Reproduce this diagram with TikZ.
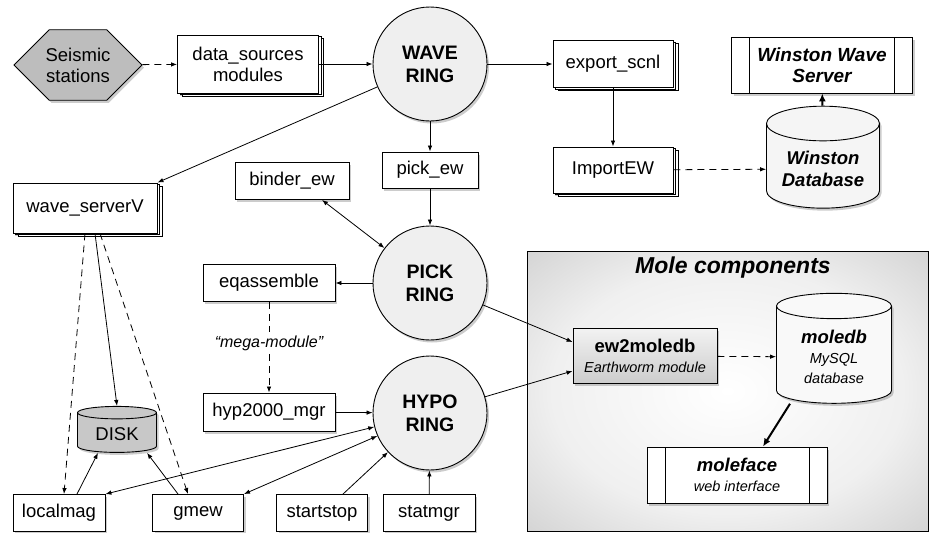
\documentclass[tikz,border=0pt]{standalone}
\usepackage{fontspec}
\setmainfont{Liberation Sans}
\usetikzlibrary{arrows.meta,positioning,shapes.geometric,shapes.misc,shadows}
\definecolor{ringgrey}{HTML}{EFEFEF}
\definecolor{diskgrey}{HTML}{C8C8C8}
\definecolor{stationgrey}{HTML}{BDBDBD}
\pgfdeclareradialshading{moleshade}{\pgfpoint{0bp}{0bp}}{color(0bp)=(white); color(22bp)=(white!94!black); color(42bp)=(white!78!black); color(52bp)=(white!62!black); color(72bp)=(white!50!black)}

\begin{document}
\begin{tikzpicture}[
  x=1pt, y=-1pt,
  font=\fontsize{18.5}{21}\selectfont,
  dropsh/.style={drop shadow={shadow xshift=2pt, shadow yshift=-2.5pt, opacity=0.4}},
  box/.style={draw, fill=white, line width=0.9pt, align=center, inner sep=2pt, dropsh},
  stackbox/.style={box, double copy shadow={shadow xshift=2.5pt, shadow yshift=-1.5pt}},
  ring/.style={circle, draw, line width=0.9pt, fill=ringgrey, minimum size=114pt, align=center, font=\fontsize{19.5}{23}\selectfont\bfseries, dropsh},
  db/.style={cylinder, shape border rotate=90, draw, line width=0.9pt, align=center, dropsh},
  procbox/.style={box, path picture={
    \draw[line width=0.9pt] ([xshift=18pt]path picture bounding box.north west) -- ([xshift=18pt]path picture bounding box.south west)
      ([xshift=-18pt]path picture bounding box.north east) -- ([xshift=-18pt]path picture bounding box.south east);}},
  arr/.style={-{Latex[length=6pt,width=4.5pt]}, line width=0.8pt},
  darr/.style={arr, dash pattern=on 7pt off 5pt},
  biarr/.style={{Latex[length=6pt,width=4.5pt]}-{Latex[length=6pt,width=4.5pt]}, line width=0.8pt},
  fatarr/.style={-{Latex[length=8pt,width=7pt]}, line width=2pt}
]
\useasboundingbox (0,0) rectangle (930,533);

\node[draw, line width=0.8pt, shading=moleshade, minimum width=401pt, minimum height=280pt] (mole) at (727.5,391) {};
\node[font=\fontsize{23}{26}\selectfont\bfseries\itshape] (moletitle) at (733,268) {Mole components};

\node[box, chamfered rectangle, chamfered rectangle xsep=22pt, chamfered rectangle ysep=16pt, fill=stationgrey, minimum width=128pt, minimum height=65pt] (seismic) at (78,65) {Seismic\\stations};
\node[stackbox, minimum width=141pt, minimum height=58pt] (datasrc) at (248,64) {data\_sources\\modules};
\node[ring] (wave) at (430,64) {WAVE\\RING};
\node[stackbox, minimum width=120pt, minimum height=47pt] (export) at (613,64) {export\_scnl};
\node[stackbox, minimum width=120pt, minimum height=46pt] (import) at (613,170) {ImportEW};
\node[procbox, minimum width=181pt, minimum height=56pt, font=\fontsize{19}{21}\selectfont\bfseries\itshape] (winwave) at (822,65) {Winston Wave\\Server};
\node[db, fill=gray!8, minimum width=113pt, minimum height=102pt, aspect=0.39, font=\fontsize{18.5}{22}\selectfont\bfseries\itshape] (windb) at (823,169) {Winston\\Database};

\node[box, minimum width=96pt, minimum height=36pt] (pickew) at (430,170) {pick\_ew};
\node[box, minimum width=114pt, minimum height=37pt] (binder) at (292,181) {binder\_ew};
\node[stackbox, minimum width=144pt, minimum height=50pt] (wsv) at (85,208) {wave\_serverV};
\node[ring] (pick) at (430,283) {PICK\\RING};
\node[box, minimum width=132pt, minimum height=37pt] (eqass) at (269,283) {eqassemble};
\node[font=\fontsize{16}{19}\selectfont\itshape] (mega) at (269,343) {``mega-module''};
\node[box, minimum width=132pt, minimum height=38pt] (hyp) at (269,412) {hyp2000\_mgr};
\node[ring] (hypo) at (430,413) {HYPO\\RING};

\node[db, fill=diskgrey, minimum width=79pt, minimum height=46pt, aspect=0.25] (disk) at (117,434) {DISK};
\node[box, minimum width=92pt, minimum height=37pt] (localmag) at (59,513) {localmag};
\node[box, minimum width=91pt, minimum height=37pt] (gmew) at (198,513) {gmew};
\node[box, minimum width=91pt, minimum height=37pt] (startstop) at (322,513) {startstop};
\node[box, minimum width=92pt, minimum height=37pt] (statmgr) at (429,513) {statmgr};

\node[box, top color=gray!10, bottom color=gray!40, minimum width=144pt, minimum height=55pt, font=\fontsize{18.5}{20}\selectfont\bfseries] (ew2) at (645,356) {ew2moledb\\\mdseries\itshape\fontsize{14.5}{17}\selectfont Earthworm module};
\node[db, fill=gray!5, minimum width=115pt, minimum height=110pt, aspect=0.35, font=\fontsize{18.5}{20}\selectfont\bfseries\itshape] (moledb) at (834,357) {moledb\\\mdseries\fontsize{14.5}{17}\selectfont MySQL\\\mdseries\fontsize{14.5}{17}\selectfont database};
\node[procbox, minimum width=180pt, minimum height=56pt, font=\fontsize{18.5}{20}\selectfont\bfseries\itshape] (moleface) at (737,475) {moleface\\\mdseries\fontsize{14.5}{17}\selectfont web interface};

\draw[darr] (seismic) -- (datasrc);
\draw[arr] (datasrc) -- (wave);
\draw[arr] (wave) -- (export);
\draw[arr] (export) -- (import);
\draw[darr] (import) -- (windb);
\draw[fatarr] (windb) -- (winwave);
\draw[arr] (wave) -- (wsv.north east);
\draw[arr] (wave) -- (pickew);
\draw[arr] (pickew) -- (pick);
\draw[biarr] ([xshift=30pt]binder.south) -- (pick);
\draw[arr] (pick) -- (eqass);
\draw[dash pattern=on 7pt off 5pt, line width=0.8pt] (eqass) -- (mega);
\draw[darr] (mega) -- (hyp);
\draw[arr] (hyp) -- (hypo);
\draw[arr] (pick) -- ([yshift=14pt]ew2.west);
\draw[arr] (hypo) -- ([yshift=-15pt]ew2.west);
\draw[darr] (ew2) -- (moledb);
\draw[fatarr] ([xshift=-44pt]moledb.south) -- ([xshift=26pt]moleface.north);

\draw[darr] (wsv.south) -- ([xshift=5pt]localmag.north);
\draw[arr] ([xshift=10pt]wsv.south) -- (disk.north);
\draw[darr] ([xshift=15pt]wsv.south) -- ([xshift=-10pt]gmew.north);
\draw[arr] ([xshift=18pt]localmag.north) -- ([xshift=-19pt]disk.south);
\draw[arr] ([xshift=-20pt]gmew.north) -- ([xshift=30pt]disk.south);
\draw[biarr] (localmag.north east) -- (hypo);
\draw[biarr] (gmew.north east) -- (hypo);
\draw[arr] ([xshift=21pt]startstop.north) -- (hypo);
\draw[arr] (statmgr) -- (hypo);
\end{tikzpicture}
\end{document}
